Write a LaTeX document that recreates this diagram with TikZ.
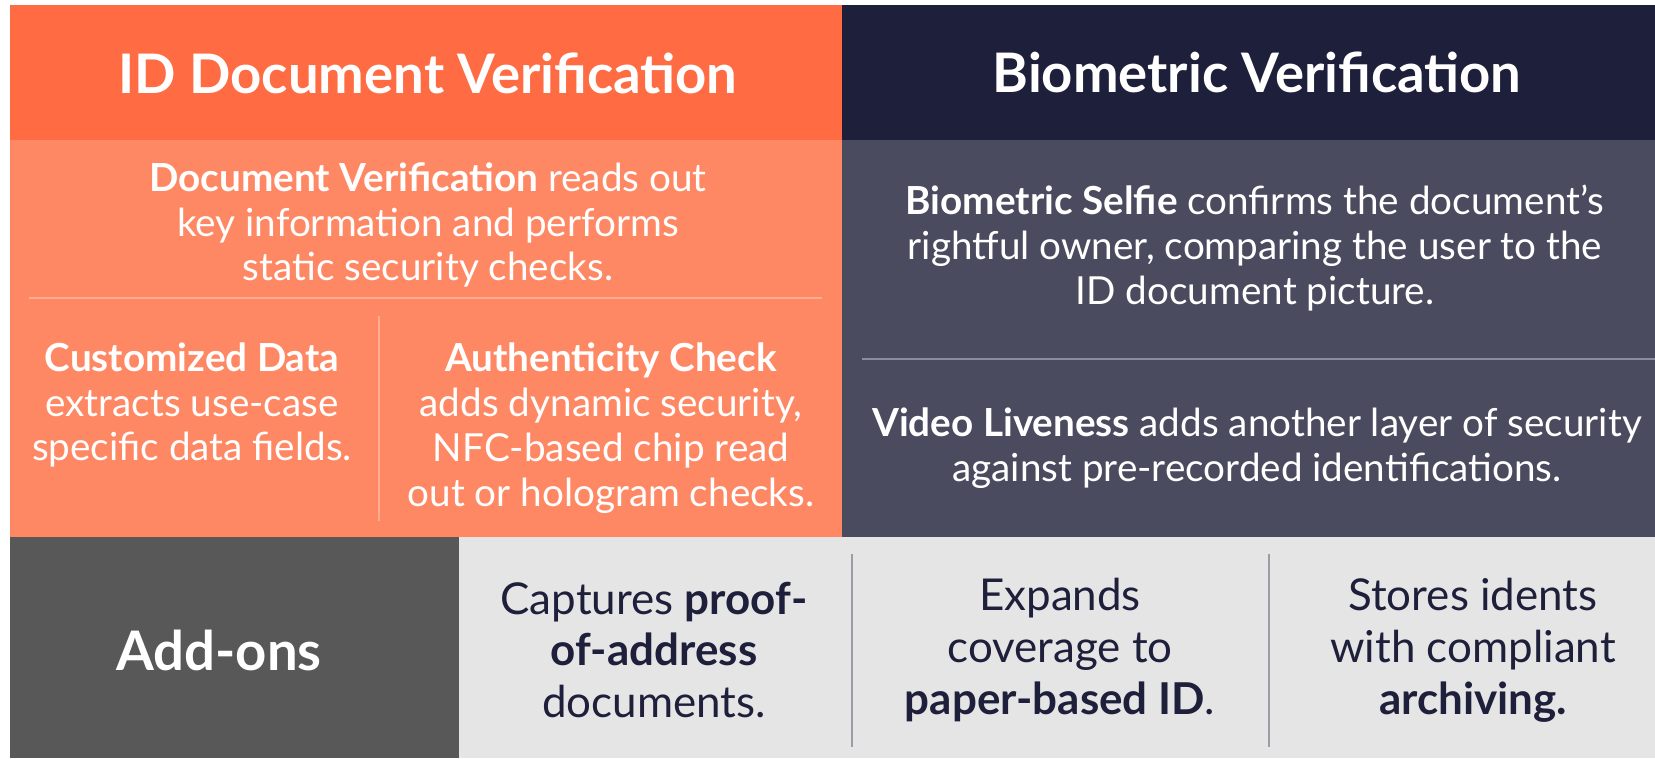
\documentclass[tikz,border=0pt]{standalone}
\usepackage{fontspec}
\setmainfont{Lato}
\definecolor{idorange}{HTML}{FF6B42}
\definecolor{idorangelt}{HTML}{FF8864}
\definecolor{idrule}{HTML}{FFAE92}
\definecolor{bionavy}{HTML}{1E1F3A}
\definecolor{bionavylt}{HTML}{4A4B5E}
\definecolor{biorule}{HTML}{8C8D9B}
\definecolor{addgray}{HTML}{585858}
\definecolor{addlt}{HTML}{E5E5E5}
\definecolor{addrule}{HTML}{9C9CA6}
\tikzset{
  hdr/.style={font=\fontsize{31}{37}\selectfont\bfseries, text=white, inner sep=0pt},
  bodytxt/.style={font=\fontsize{22}{25.5}\selectfont, text=white, align=center, inner sep=0pt},
  addtxt/.style={font=\fontsize{25}{29.5}\selectfont, text=bionavy, align=center, inner sep=0pt},
  sep/.style={line width=0.9pt}
}
\begin{document}
\begin{tikzpicture}[x=0.02cm, y=-0.02cm]
        \useasboundingbox (0,0) rectangle (1655,758);

        % === Panels ===
        \fill[idorange] (10,5) rectangle (842,140);
        \fill[bionavy] (842,5) rectangle (1655,140);
        \fill[idorangelt] (10,140) rectangle (842,537);
        \fill[bionavylt] (842,140) rectangle (1655,537);
        \fill[addgray] (10,537) rectangle (459,758);
        \fill[addlt] (459,537) rectangle (1655,758);

        % === ID Document Verification ===
        \node[hdr] (hdrid) at (428,73) {ID Document Verification};
        \node[bodytxt] (docver) at (428,225) {\textbf{Document Verification} reads out\\key information and performs\\static security checks.};
        \draw[sep, idrule] (29,298) -- (822,298);
        \draw[sep, idrule] (379,316) -- (379,521);
        \node[bodytxt] (custom) at (192,405) {\textbf{Customized Data}\\extracts use-case\\specific data fields.};
        \node[bodytxt] (authent) at (611,428) {\textbf{Authenticity Check}\\adds dynamic security,\\NFC-based chip read\\out or hologram checks.};

        % === Biometric Verification ===
        \node[hdr] (hdrbio) at (1257,72) {Biometric Verification};
        \node[bodytxt] (selfie) at (1255,248) {\textbf{Biometric Selfie} confirms the document’s\\rightful owner, comparing the user to the\\ID document picture.};
        \draw[sep, biorule] (862,359) -- (1655,359);
        \node[bodytxt] (video) at (1257,448) {\textbf{Video Liveness} adds another layer of security\\against pre-recorded identifications.};

        % === Add-ons ===
        \node[hdr, font=\fontsize{31}{37}\selectfont\bfseries] (addons) at (219,650) {Add-ons};
        \node[addtxt] (proof) at (654,650) {Captures \textbf{proof-}\\\textbf{of-address}\\documents.};
        \draw[sep, addrule] (852,554) -- (852,747);
        \node[addtxt] (expands) at (1060,650) {Expands\\coverage to\\\textbf{paper-based ID}.};
        \draw[sep, addrule] (1269,554) -- (1269,747);
        \node[addtxt] (stores) at (1473,650) {Stores idents\\with compliant\\\textbf{archiving.}};

\end{tikzpicture}
\end{document}
